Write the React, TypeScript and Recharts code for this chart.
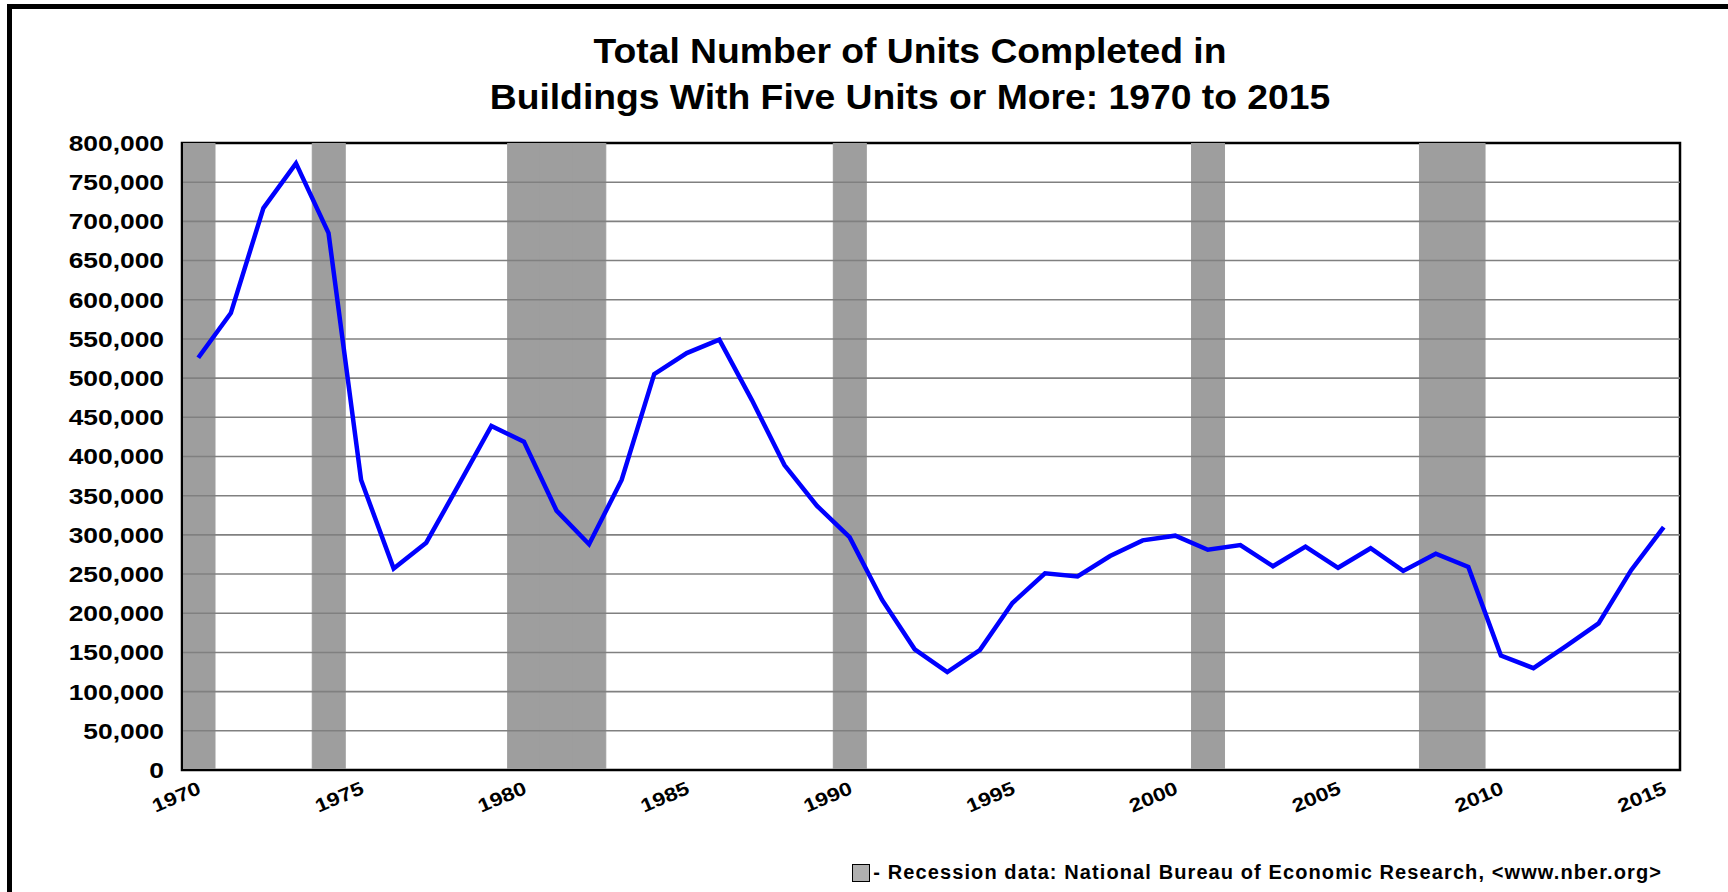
import React from 'react';
import { ComposedChart, Line, Bar, XAxis, YAxis, ReferenceLine, ReferenceArea } from 'recharts';

const years: string[] = [
  '1970','1971','1972','1973','1974','1975','1976','1977','1978','1979',
  '1980','1981','1982','1983','1984','1985','1986','1987','1988','1989',
  '1990','1991','1992','1993','1994','1995','1996','1997','1998','1999',
  '2000','2001','2002','2003','2004','2005','2006','2007','2008','2009',
  '2010','2011','2012','2013','2014','2015',
];

const unitsCompleted: number[] = [
  526000, 583000, 717000, 774000, 685000, 370000, 257000, 290000, 364000, 439000,
  419000, 331000, 288000, 370000, 505000, 532000, 549000, 472000, 389000, 337000,
  297000, 217000, 154000, 125000, 153000, 213000, 251000, 247000, 273000, 293000,
  299000, 281000, 287000, 260000, 285000, 258000, 283000, 254000, 276000, 259000,
  146000, 130000, 158000, 187000, 255000, 310000,
];

const recessionYears: string[] = ['1970', '1974', '1980', '1981', '1982', '1990', '2001', '2008', '2009'];

const yTicks: number[] = [
  0, 50000, 100000, 150000, 200000, 250000, 300000, 350000, 400000,
  450000, 500000, 550000, 600000, 650000, 700000, 750000, 800000,
];

const yMax = 800000;

const titleLines: string[] = [
  'Total Number of Units Completed in',
  'Buildings With Five Units or More: 1970 to 2015',
];

const legendText = '- Recession data: National Bureau of Economic Research, <www.nber.org>';

const data = years.map((y, i) => ({
  year: y,
  units: unitsCompleted[i],
  recession: recessionYears.includes(y) ? yMax : null,
}));

const FONT = '"Liberation Sans", Arial, Helvetica, sans-serif';
const W = 1728;
const H = 892;

const XTick = (props: any) => {
  const { x, y, payload } = props;
  const ax = x + 4;
  const ay = y + 15;
  return (
    <g transform={`translate(${ax}, ${ay}) rotate(-23) scale(1.2, 1)`}>
      <text
        x={0}
        y={0}
        textAnchor="end"
        fontSize={19}
        fontWeight="bold"
        fontFamily={FONT}
        fill="#000"
      >
        {payload.value}
      </text>
    </g>
  );
};

const YTick = (props: any) => {
  const { x, y, payload } = props;
  return (
    <g transform={`translate(${x - 1}, ${y}) scale(1.2, 1)`}>
      <text
        x={0}
        y={0}
        dy="0.36em"
        textAnchor="end"
        fontSize={22}
        fontWeight="bold"
        fontFamily={FONT}
        fill="#000"
      >
        {Number(payload.value).toLocaleString('en-US')}
      </text>
    </g>
  );
};

export default function App() {
  return (
    <div
      style={{
        position: 'absolute',
        left: 0,
        top: 0,
        width: W,
        height: H,
        background: '#fff',
        overflow: 'hidden',
        fontFamily: FONT,
      }}
    >
      <div
        style={{
          position: 'absolute',
          left: 7,
          top: 4,
          width: W,
          height: H,
          borderLeft: '5px solid #000',
          borderTop: '5px solid #000',
        }}
      />
      <div
        style={{
          position: 'absolute',
          left: 910 - 600,
          top: 28,
          width: 1200,
          textAlign: 'center',
          fontSize: 35,
          lineHeight: '46px',
          fontWeight: 'bold',
          color: '#000',
          whiteSpace: 'nowrap',
        }}
      >
        {titleLines.map((t) => (
          <div key={t} style={{ transform: 'scaleX(1.065)' }}>{t}</div>
        ))}
      </div>
      <div style={{ position: 'absolute', left: 0, top: 0 }}>
        <ComposedChart
          width={W}
          height={H}
          data={data}
          margin={{ top: 143, right: 48, bottom: 62, left: 0 }}
          barCategoryGap={0}
          barGap={0}
        >
          <XAxis
            dataKey="year"
            height={60}
            interval={4}
            tick={<XTick />}
            tickLine={false}
            axisLine={{ stroke: '#000', strokeWidth: 2 }}
          />
          <YAxis
            width={182}
            domain={[0, yMax]}
            ticks={yTicks}
            allowDataOverflow
            tickLine={false}
            tickSize={0}
            tickMargin={17}
            axisLine={{ stroke: '#000', strokeWidth: 2 }}
            tick={<YTick />}
          />
          <Bar
            dataKey="recession"
            fill="#9e9e9e"
            stroke="#9e9e9e"
            strokeWidth={1}
            isAnimationActive={false}
          />
          {yTicks.slice(1, -1).map((v) => (
            <ReferenceLine key={v} y={v} stroke="#808080" strokeWidth={1.6} ifOverflow="visible" />
          ))}
          <Line
            type="linear"
            dataKey="units"
            stroke="#0000ff"
            strokeWidth={4.5}
            dot={false}
            activeDot={false}
            isAnimationActive={false}
          />
          <ReferenceArea
            x1={years[0]}
            x2={years[years.length - 1]}
            y1={0}
            y2={yMax}
            fill="none"
            fillOpacity={0}
            stroke="#000"
            strokeWidth={2.5}
            ifOverflow="visible"
          />
        </ComposedChart>
      </div>
      <div
        style={{
          position: 'absolute',
          right: 66,
          top: 861,
          display: 'flex',
          alignItems: 'center',
          fontSize: 20,
          fontWeight: 'bold',
          letterSpacing: 1.1,
          color: '#000',
          whiteSpace: 'nowrap',
        }}
      >
        <div
          style={{
            width: 16,
            height: 16,
            background: '#b0b0b0',
            border: '1px solid #000',
            marginRight: 3,
          }}
        />
        <span>{legendText}</span>
      </div>
    </div>
  );
}
